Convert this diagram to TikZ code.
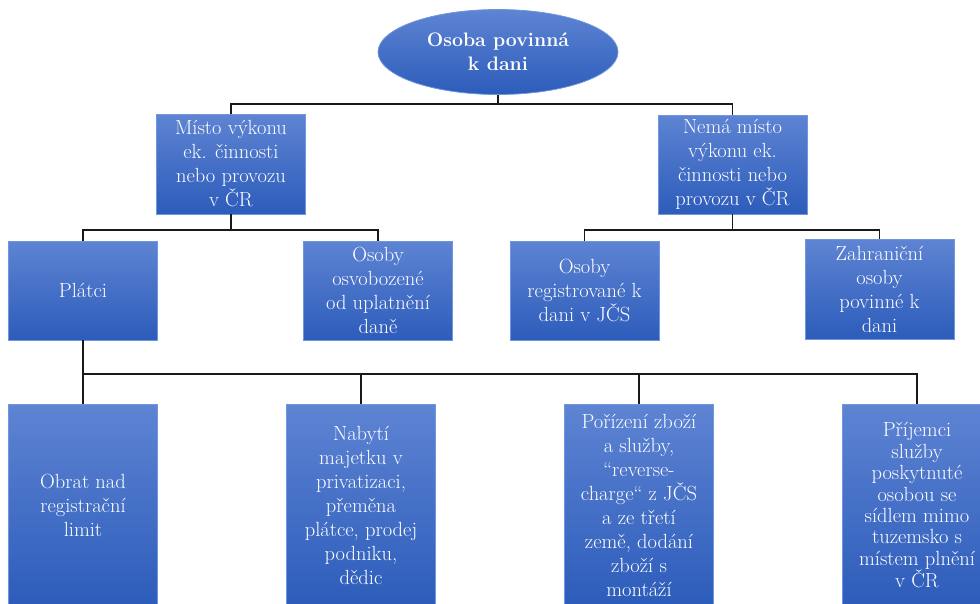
\documentclass[tikz,border=0pt]{standalone}
\usepackage{fontspec}
\usetikzlibrary{shapes.geometric}
\definecolor{boxtop}{RGB}{94,132,211}
\definecolor{boxbot}{RGB}{44,92,186}
\definecolor{boxline}{RGB}{112,150,222}
\definecolor{wire}{RGB}{25,25,25}
\tikzset{
  boxfill/.style={top color=boxtop, bottom color=boxbot, draw=boxline, line width=0.8pt, text=white, align=center, inner sep=2pt},
  stepbox/.style={boxfill, rectangle, minimum width=#1, font=\fontsize{20.5}{24}\selectfont},
  stepbox/.default=149,
  rootnode/.style={boxfill, ellipse, minimum width=240, minimum height=85, inner sep=0pt, font=\fontsize{19.5}{24}\selectfont\bfseries},
  wireline/.style={draw=wire, line width=1.2pt}
}
\begin{document}
\begin{tikzpicture}[x=1pt,y=-1pt]
\useasboundingbox (0,0) rectangle (980,603);
\clip (0,0) rectangle (980,603);
\node[rootnode] (top) at (498,52) {Osoba povinná\\k dani};
\node[stepbox, minimum height=100] (A) at (231,164) {Místo výkonu\\ek. činnosti\\nebo provozu\\v ČR};
\node[stepbox, minimum height=99] (B) at (732.5,164.5) {Nemá místo\\výkonu ek.\\činnosti nebo\\provozu v ČR};
\node[stepbox, minimum height=99] (C) at (83,290.5) {Plátci};
\node[stepbox, minimum height=99] (D) at (378,290.5) {Osoby\\osvobozené\\od uplatnění\\daně};
\node[stepbox, minimum height=99] (E) at (584.5,290.5) {Osoby\\registrované k\\dani v JČS};
\node[stepbox, minimum height=100] (F) at (879.5,289) {Zahraniční\\osoby\\povinné k\\dani};
\node[stepbox, minimum height=203] (G) at (83,505.5) {Obrat nad\\registrační\\limit};
\node[stepbox, minimum height=203] (H) at (361,505.5) {Nabytí\\majetku v\\privatizaci,\\přeměna\\plátce, prodej\\podniku,\\dědic};
\node[stepbox, minimum height=203] (I) at (639,505.5) {Pořízení zboží\\a služby,\\“reverse-\\charge“ z JČS\\a ze třetí\\země, dodání\\zboží s\\montáží};
\node[stepbox, minimum height=203, font=\fontsize{20.5}{21.4}\selectfont] (J) at (917,505.5) {Příjemci\\služby\\poskytnuté\\osobou se\\sídlem mimo\\tuzemsko s\\místem plnění\\v ČR};
\coordinate (b1) at (498,104);
\coordinate (b2) at (231,230);
\coordinate (b3) at (732.5,230);
\coordinate (b4) at (83,374);
\draw[wireline] (top.south) -- (b1);
\draw[wireline] (A.north) |- (b1) -| (B.north);
\draw[wireline] (A.south) -- (b2);
\draw[wireline] (C.north) |- (b2) -| (D.north);
\draw[wireline] (B.south) -- (b3);
\draw[wireline] (E.north) |- (b3) -| (F.north);
\draw[wireline] (C.south) -- (G.north);
\draw[wireline] (b4) -| (H.north);
\draw[wireline] (b4) -| (I.north);
\draw[wireline] (b4) -| (J.north);
\end{tikzpicture}
\end{document}
